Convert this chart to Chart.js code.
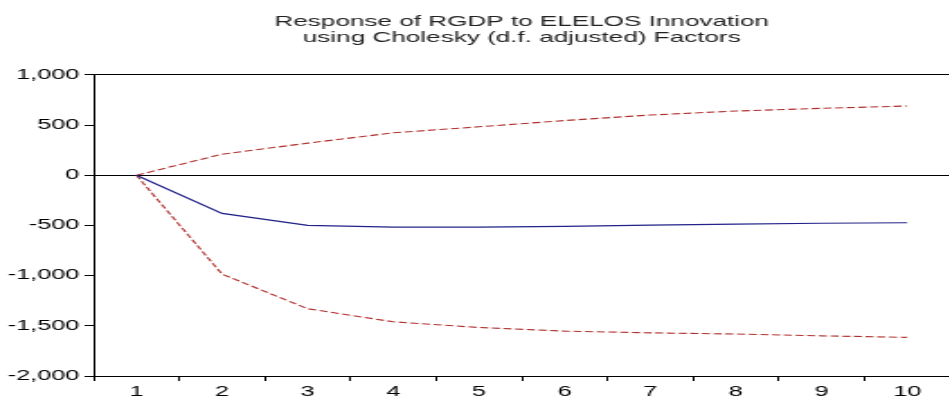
<!DOCTYPE html>
<html>
<head>
<meta charset="utf-8">
<script src="https://cdn.jsdelivr.net/npm/chart.js@4"></script>
<style>
  html, body { margin: 0; padding: 0; background: #fff; overflow: hidden; }
  /* the reference is stretched sideways, so the canvas is drawn narrow and widened */
  #irf { display: block; width: 950px !important; height: 396px !important; }
</style>
</head>
<body>
<canvas id="irf" width="528" height="396" style="width:950px;height:396px"></canvas>
<script>
// impulse response of RGDP to an ELELOS shock, with +/- 2 s.e. bands
const periods = ['1', '2', '3', '4', '5', '6', '7', '8', '9', '10'];
const response = [0, -380, -500, -517, -517, -510, -497, -487, -478, -473];
const upperBand = [0, 210, 320, 423, 483, 545, 600, 640, 667, 690];
const lowerBand = [0, -985, -1330, -1460, -1517, -1553, -1570, -1582, -1600, -1615];
const titleLines = ['Response of RGDP to ELELOS Innovation', 'using Cholesky (d.f. adjusted) Factors'];

const fontFamily = "'Liberation Sans', Arial, sans-serif";
const bandColor = '#b0302e';

const ctx = document.getElementById('irf').getContext('2d');

new Chart(ctx, {
    type: 'line',
    data: {
        labels: periods,
        datasets: [{
            label: 'Response',
            data: response,
            borderColor: '#22228a',
            borderWidth: 1.2,
            pointRadius: 0,
            tension: 0
        }, {
            label: 'Upper',
            data: upperBand,
            borderColor: bandColor,
            borderWidth: 1.1,
            borderDash: [4.5, 2],
            pointRadius: 0,
            tension: 0
        }, {
            label: 'Lower',
            data: lowerBand,
            borderColor: bandColor,
            borderWidth: 1.1,
            borderDash: [4.5, 2],
            pointRadius: 0,
            tension: 0
        }]
    },
    options: {
        responsive: false,
        animation: false,
        layout: { padding: 0 },
        plugins: {
            legend: { display: false },
            tooltip: { enabled: false },
            title: {
                display: true,
                fullSize: false,
                text: titleLines,
                color: '#222',
                font: { family: fontFamily, size: 14.5, weight: 'normal', lineHeight: 1.1 },
                padding: { top: 14, bottom: 29 }
            }
        },
        scales: {
            x: {
                offset: true,
                grid: {
                    offset: true,
                    drawOnChartArea: false,
                    drawTicks: true,
                    tickLength: 5,
                    tickColor: '#000'
                },
                border: { display: true, color: '#000', width: 1 },
                ticks: {
                    color: '#000',
                    padding: 3,
                    maxRotation: 0,
                    font: { family: fontFamily, size: 14 }
                },
                afterFit: (scale) => { scale.height = 20; }
            },
            y: {
                min: -2000,
                max: 1000,
                grid: {
                    drawTicks: true,
                    tickLength: 5,
                    tickColor: '#000',
                    color: (c) => (c.tick && (c.tick.value === 0 || c.tick.value === 1000)) ? '#000' : 'rgba(0,0,0,0)',
                    lineWidth: 1
                },
                border: { display: true, color: '#000', width: 1 },
                ticks: {
                    stepSize: 500,
                    color: '#000',
                    padding: 3,
                    font: { family: fontFamily, size: 14 },
                    callback: (v) => v.toLocaleString('en-US')
                },
                afterFit: (scale) => { scale.width = 52; }
            }
        }
    }
});
</script>
</body>
</html>
